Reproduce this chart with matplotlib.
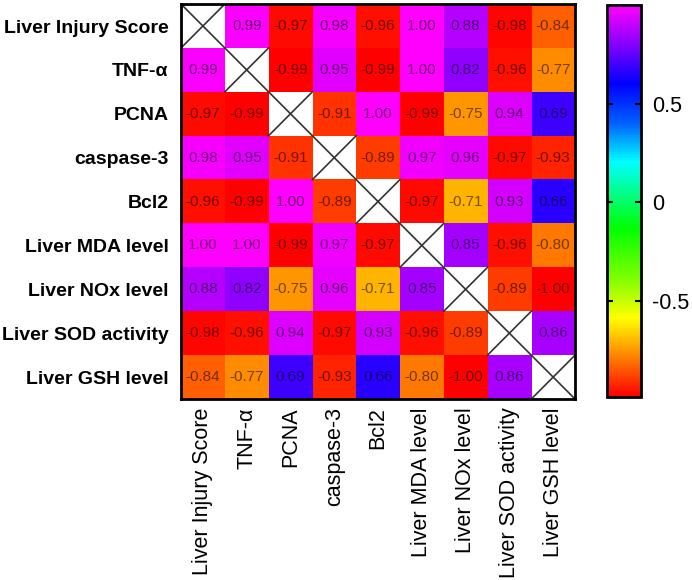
import numpy as np
import matplotlib
matplotlib.use('Agg')
import matplotlib.pyplot as plt
from matplotlib.colors import LinearSegmentedColormap

plt.rcParams['font.family'] = ['Liberation Sans', 'DejaVu Sans']

# Variables in the correlation matrix.
labels = ['Liver Injury Score', 'TNF-\u03b1', 'PCNA', 'caspase-3', 'Bcl2',
          'Liver MDA level', 'Liver NOx level', 'Liver SOD activity', 'Liver GSH level']

# Pearson r values (diagonal left empty).
row_injury = [np.nan, 0.99, -0.97, 0.98, -0.96, 1.00, 0.88, -0.98, -0.84]
row_tnf = [0.99, np.nan, -0.99, 0.95, -0.99, 1.00, 0.82, -0.96, -0.77]
row_pcna = [-0.97, -0.99, np.nan, -0.91, 1.00, -0.99, -0.75, 0.94, 0.69]
row_casp = [0.98, 0.95, -0.91, np.nan, -0.89, 0.97, 0.96, -0.97, -0.93]
row_bcl2 = [-0.96, -0.99, 1.00, -0.89, np.nan, -0.97, -0.71, 0.93, 0.66]
row_mda = [1.00, 1.00, -0.99, 0.97, -0.97, np.nan, 0.85, -0.96, -0.80]
row_nox = [0.88, 0.82, -0.75, 0.96, -0.71, 0.85, np.nan, -0.89, -1.00]
row_sod = [-0.98, -0.96, 0.94, -0.97, 0.93, -0.96, -0.89, np.nan, 0.86]
row_gsh = [-0.84, -0.77, 0.69, -0.93, 0.66, -0.80, -1.00, 0.86, np.nan]

cbar_ticks = [-0.5, 0, 0.5]

r = np.array([row_injury, row_tnf, row_pcna, row_casp, row_bcl2,
              row_mda, row_nox, row_sod, row_gsh])
n = len(labels)

# Prism-like rainbow: red -> yellow -> green -> cyan -> blue -> magenta.
cmap = LinearSegmentedColormap.from_list('prism_rainbow', [
    (0.00, '#ff0000'),
    (0.10, '#ff8000'),
    (0.20, '#ffff00'),
    (0.30, '#80ff00'),
    (0.43, '#00ff00'),
    (0.60, '#00ffff'),
    (0.70, '#0060ff'),
    (0.80, '#0000ff'),
    (0.91, '#9000ff'),
    (1.00, '#ff00ff'),
])
cmap.set_bad('white')

fig = plt.figure(figsize=(6.92, 5.8), dpi=100)
ax = fig.add_axes([0.2616, 0.312, 0.5694, 0.681])
cax = fig.add_axes([0.877, 0.3155, 0.049, 0.6755])

im = ax.imshow(np.ma.masked_invalid(r), cmap=cmap, vmin=-0.99, vmax=1.0,
               aspect='auto', interpolation='nearest')

# Values in each cell, crosses on the diagonal.
for i in range(n):
    for j in range(n):
        if i == j:
            ax.plot([j - 0.5, j + 0.5], [i - 0.5, i + 0.5], color='#333333', lw=1.2)
            ax.plot([j - 0.5, j + 0.5], [i + 0.5, i - 0.5], color='#333333', lw=1.2)
        else:
            ax.text(j, i, f'{r[i, j]:.2f}', ha='center', va='center',
                    fontsize=11, color='black', alpha=0.55)

ax.set_xlim(-0.5, n - 0.5)
ax.set_ylim(n - 0.5, -0.5)
ax.set_xticks(range(n))
ax.set_yticks(range(n))
ax.set_xticklabels(labels, rotation=90, fontsize=15.5)
ax.set_yticklabels(labels, fontsize=14, fontweight='bold')
ax.tick_params(axis='x', length=0, pad=6)
ax.tick_params(axis='y', length=0, pad=9)
for s in ax.spines.values():
    s.set_linewidth(2)

cb = fig.colorbar(im, cax=cax, ticks=cbar_ticks)
cb.ax.set_yticklabels(['-0.5', '0', '0.5'])
cb.outline.set_linewidth(2)
cb.ax.tick_params(direction='in', length=4, width=1.5, labelsize=15.5,
                  left=True, right=True, pad=8)

fig.savefig('out.png', dpi=100)
